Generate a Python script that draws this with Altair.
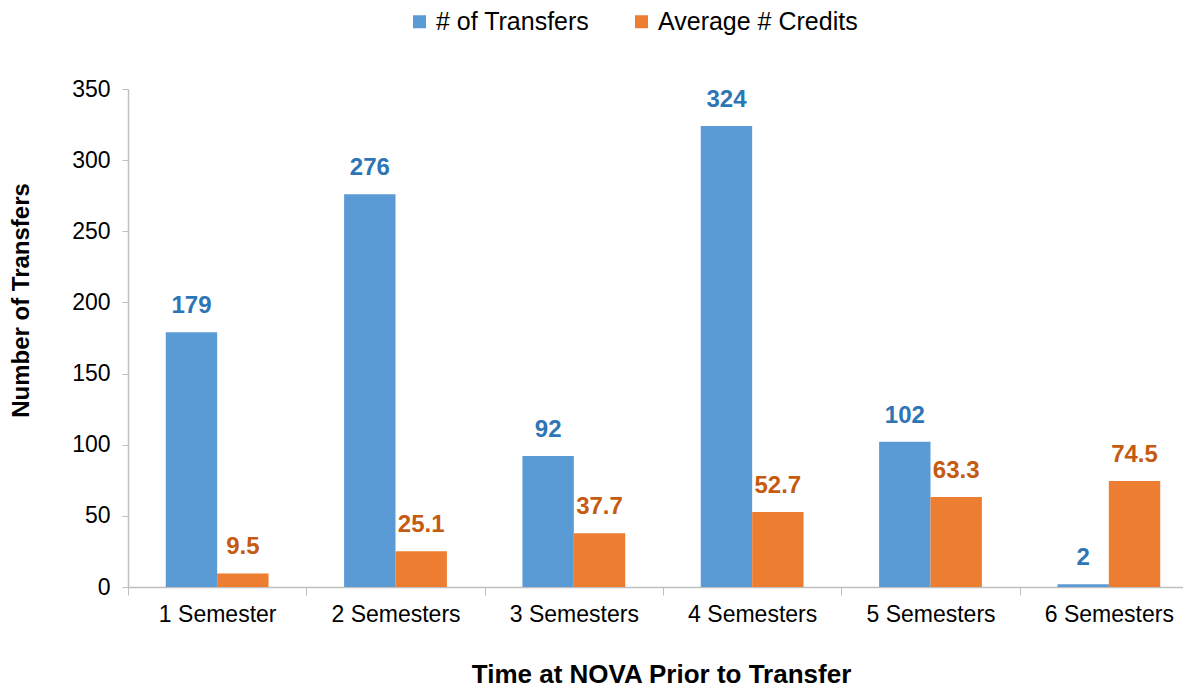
import altair as alt
import pandas as pd

categories = ["1 Semester", "2 Semesters", "3 Semesters", "4 Semesters", "5 Semesters", "6 Semesters"]
series = ["# of Transfers", "Average # Credits"]
transfers = [179, 276, 92, 324, 102, 2]
credits = [9.5, 25.1, 37.7, 52.7, 63.3, 74.5]
y_ticks = [0, 50, 100, 150, 200, 250, 300, 350]

bar_colors = ["#5B9BD5", "#ED7D31"]
label_colors = ["#2E75B6", "#C55A11"]

rows = []
for c, t, a in zip(categories, transfers, credits):
    rows.append({"cat": c, "series": series[0], "value": t, "label": f"{t:d}", "lc": label_colors[0]})
    rows.append({"cat": c, "series": series[1], "value": a, "label": f"{a:.1f}", "lc": label_colors[1]})
df = pd.DataFrame(rows)

FONT = "Liberation Sans"
GRAY = "#BFBFBF"

base = alt.Chart(df).encode(
    x=alt.X(
        "cat:N",
        sort=categories,
        scale=alt.Scale(paddingInner=0, paddingOuter=0, range=[0, 1070]),
        axis=alt.Axis(
            title="Time at NOVA Prior to Transfer",
            labelAngle=0,
            labelFontSize=23,
            labelColor="#000000",
            labelFont=FONT,
            labelPadding=8,
            labelLimit=300,
            tickBand="extent",
            tickSize=8,
            tickColor=GRAY,
            domainColor=GRAY,
            domainWidth=1.5,
            titleFont=FONT,
            titleFontSize=26,
            titleFontWeight="bold",
            titleColor="#000000",
            titleBaseline="alphabetic",
            titleY=95,
            titleX=533,
            titleLimit=800,
        ),
    ),
    xOffset=alt.XOffset("series:N", sort=series, scale=alt.Scale(paddingInner=0, paddingOuter=0.735)),
    y=alt.Y(
        "value:Q",
        scale=alt.Scale(domain=[0, 350], nice=False),
        axis=alt.Axis(
            title="Number of Transfers",
            values=y_ticks,
            grid=False,
            labelFontSize=23,
            labelColor="#000000",
            labelFont=FONT,
            labelPadding=12,
            tickSize=6,
            tickColor=GRAY,
            domainColor=GRAY,
            domainWidth=1.5,
            titleFont=FONT,
            titleFontSize=24,
            titleFontWeight="bold",
            titleColor="#000000",
            titleAngle=-90,
            titleX=-107,
            titleY=211,
            titleBaseline="middle",
            titleAlign="center",
            titleLimit=600,
        ),
    ),
)

bars = base.mark_bar().encode(
    color=alt.Color(
        "series:N",
        sort=series,
        scale=alt.Scale(domain=series, range=bar_colors),
        legend=alt.Legend(
            title=None,
            orient="none",
            direction="horizontal",
            legendX=279,
            legendY=-80,
            symbolType="square",
            symbolSize=169,
            symbolStrokeWidth=0,
            labelFontSize=25,
            labelFont=FONT,
            labelColor="#000000",
            labelOffset=4,
            labelLimit=400,
            columnPadding=39,
            padding=0,
        ),
    )
)

labels = base.mark_text(
    baseline="bottom", dy=-14, fontSize=24, fontWeight="bold", font=FONT
).encode(text="label:N", color=alt.Color("lc:N", scale=None))

chart = (
    alt.layer(bars, labels)
    .properties(
        width=1055,
        height=498,
        autosize=alt.AutoSizeParams(type="none"),
        padding={"left": 120, "top": 81, "right": 0, "bottom": 104},
        background="white",
    )
    .configure_view(stroke=None)
)

chart.save("out.html", embed_options={"renderer": "svg", "actions": False})
